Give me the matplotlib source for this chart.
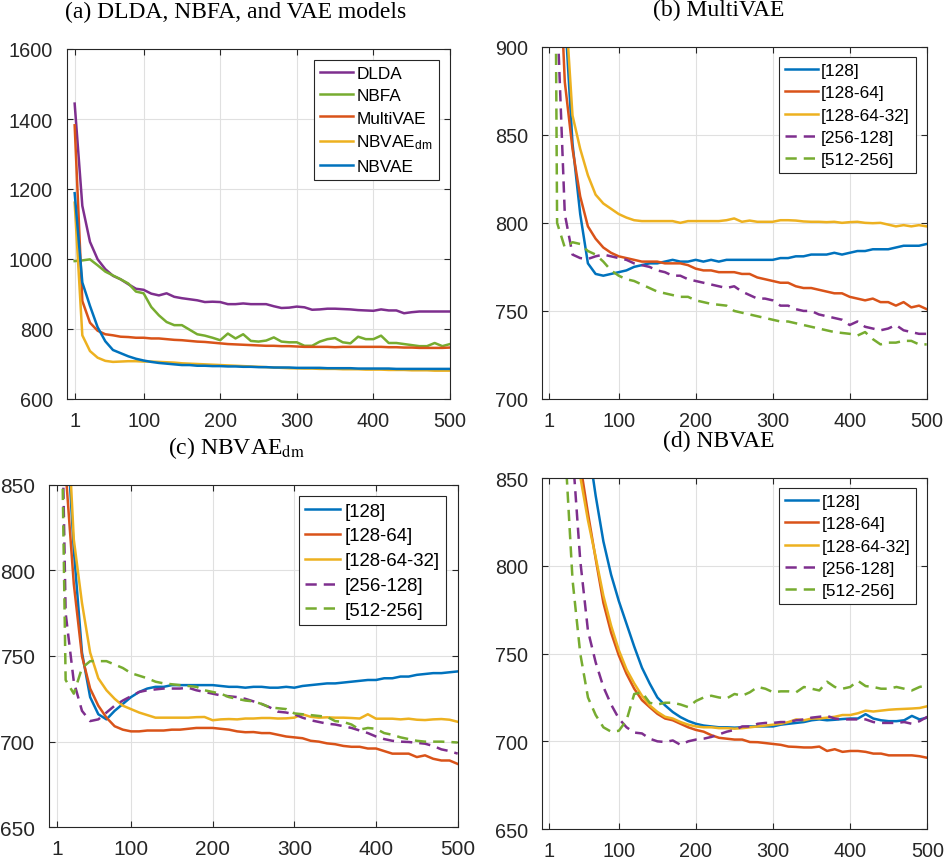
import matplotlib
matplotlib.use("Agg")
import matplotlib.pyplot as plt

plt.rcParams["font.family"] = ["Liberation Sans", "DejaVu Sans"]
plt.rcParams["mathtext.fontset"] = "custom"
plt.rcParams["mathtext.rm"] = "Liberation Sans"
plt.rcParams["mathtext.it"] = "Liberation Sans:italic"

# one checkpoint every ten epochs; tick "1" sits on the first checkpoint
ckpt = list(range(1, 51))
tick_pos = [1, 10, 20, 30, 40, 50]
tick_labels = ["1", "100", "200", "300", "400", "500"]

BLUE, RED, YELLOW, PURPLE, GREEN = "#0072BD", "#D95319", "#EDB120", "#7E2F8E", "#77AC30"

# (a) DLDA, NBFA and VAE models
dlda = [1444, 1152, 1049, 999, 971, 952, 942, 928, 915, 912,
        901, 896, 902, 892, 888, 885, 882, 877, 878, 877,
        871, 871, 873, 871, 871, 871, 865, 860, 861, 864,
        862, 855, 856, 858, 858, 857, 856, 854, 853, 852,
        856, 853, 853, 845, 848, 850, 850, 850, 850, 850]
nbfa = [994, 996, 999, 982, 964, 953, 942, 930, 907, 902,
        863, 839, 820, 811, 811, 798, 785, 781, 775, 768,
        787, 773, 785, 766, 764, 767, 776, 764, 762, 762,
        752, 752, 764, 771, 774, 762, 759, 778, 771, 771,
        781, 760, 760, 757, 754, 751, 751, 760, 751, 757]
multivae = [1382, 880, 818, 795, 785, 782, 778, 777, 775, 775,
            773, 773, 771, 769, 768, 766, 764, 763, 761, 759,
            757, 756, 755, 754, 753, 752, 752, 751, 751, 750,
            749, 749, 749, 749, 748, 749, 749, 749, 749, 749,
            749, 748, 748, 747, 747, 746, 746, 746, 746, 747]
nbvae_dm = [1161, 782, 737, 718, 709, 706, 707, 708, 708, 707,
            707, 706, 705, 704, 702, 701, 700, 699, 698, 697,
            696, 695, 694, 693, 692, 691, 690, 689, 688, 687.5,
            687, 687, 686, 686, 686, 685, 685, 685, 684, 684,
            684, 683, 683, 683, 682, 682, 682, 681, 681, 681]
nbvae = [1188, 933, 866, 805, 765, 740, 731, 722, 715, 710,
         706, 703, 701, 699, 697, 697, 695, 695, 694, 694,
         693, 693, 692, 692, 691, 691, 690, 690, 690, 689,
         689, 689, 689, 688, 688, 688, 688, 687, 687, 687,
         687, 687, 686, 686, 686, 686, 686, 686, 686, 686]

# (b) MultiVAE, hidden layer sizes
b_128 = [1200, 1000, 920, 845, 805, 777, 771, 770, 771, 772,
         773, 775, 776, 777, 777, 778, 779, 778, 778, 779,
         778, 779, 778, 779, 779, 779, 779, 779, 779, 779,
         780, 780, 781, 781, 782, 782, 782, 783, 782, 783,
         784, 784, 785, 785, 785, 786, 787, 787, 787, 788]
b_128_64 = [1250, 980, 880, 842, 815, 798, 791, 786, 783, 781,
            780, 779, 778, 778, 778, 777, 777, 777, 776, 774,
            773, 773, 772, 772, 772, 771, 771, 769, 768, 767,
            766, 766, 764, 763, 763, 762, 761, 760, 760, 758,
            757, 756, 757, 755, 755, 753, 755, 752, 753, 751]
b_128_64_32 = [1300, 1050, 930, 861, 842, 827, 816, 811, 808, 805,
               803, 801.5, 801, 801, 801, 801, 801, 800, 801, 801,
               801, 801, 801, 801.5, 802.5, 800.6, 801.3, 800.6, 800.6, 800.6,
               801.5, 801.5, 801.3, 800.8, 800.6, 800.6, 800.4, 800.6, 800, 800.4,
               800.6, 800, 799.8, 800, 799, 798, 798.7, 798, 798.7, 798]
b_256_128 = [1300, 920, 805, 782, 780, 779.5, 781, 782, 781, 780,
             779, 777, 776, 775, 773, 772, 770, 770, 768, 767,
             766, 765, 764, 763, 764, 761, 759, 757, 757, 756,
             753, 753, 751, 750, 750, 748, 747, 746, 745, 742,
             744, 741, 740, 739, 740, 742, 739, 738, 737, 737]
b_512_256 = [1500, 800, 786, 789, 788, 784, 782, 778, 773, 770,
             768, 767, 765, 763, 761, 760, 759, 758, 758, 756,
             755, 754, 753.5, 753, 750, 749, 748, 747, 746, 745,
             744, 744, 743, 742, 741, 740, 739, 738, 737.5, 737,
             736, 738, 734, 731, 732, 732, 733, 733, 731, 731]

# (c) NBVAE_dm, hidden layer sizes
c_128 = [1000, 894, 812, 752, 726, 716, 713, 718, 722, 726,
         729, 731, 732, 732, 733, 733, 733, 733, 733, 733,
         732.5, 732, 732, 731.5, 732, 732, 731.5, 731.5, 732, 731.5,
         732.5, 733, 733.5, 734, 734, 734.5, 735, 735.5, 736, 736,
         737, 737, 738, 738, 739, 739.5, 740, 740, 740.5, 741]
c_128_64 = [1000, 858, 792, 750, 731, 721, 714, 709, 707, 706,
            706, 706.5, 706.5, 706.5, 707, 707, 707.5, 708, 708, 708,
            707.5, 707, 706, 705.5, 705.6, 705, 705, 704, 703, 702.5,
            702, 700.5, 700, 699, 698.5, 697.5, 697, 697, 696, 696,
            694.5, 693, 693, 693, 691, 692, 690, 689, 689, 687]
c_128_64_32 = [1000, 912, 818, 781, 752, 737, 730, 725, 721, 719,
               717, 715.5, 714, 714, 714, 714, 714, 714.3, 714.4, 712.5,
               713, 713.2, 713, 713.5, 713.5, 713.8, 713.8, 713.5, 713.6, 714,
               716, 714.5, 714, 714.2, 714, 714, 713.8, 713.5, 716, 713.4,
               713.4, 713.4, 713, 713.4, 712.8, 712.6, 713, 713.2, 712.8, 711.6]
c_256_128 = [1040, 775, 735, 718, 712, 713, 717, 721, 724, 726.5,
             729, 730, 730.5, 731, 731, 731, 731.5, 730, 729, 728,
             727, 726.5, 726, 725, 723.5, 722, 720, 717.5, 717, 716,
             714, 712.5, 711.5, 710.5, 710, 709, 708, 706.5, 705, 703,
             701.5, 700.5, 700, 699.8, 699.3, 698.8, 697.5, 695.5, 694.5, 693]
c_512_256 = [1050, 736, 728, 743, 747, 747, 747, 745, 743, 740,
             738.5, 737, 735, 734, 733.5, 733, 732.5, 732, 730, 729,
             728, 726, 725, 724, 723.5, 722, 720, 719.5, 719, 716.5,
             716, 715.5, 715, 714.5, 712, 711.5, 710, 707, 708, 707.5,
             705, 704, 702.5, 701.5, 700.5, 700, 700, 700, 699.8, 699.5]

# (d) NBVAE, hidden layer sizes
d_128 = [1200, 1100, 1020, 960, 910, 870, 840, 814, 795, 780,
         767, 754, 742, 733, 725, 720.5, 716.7, 713.8, 711.6, 710,
         709, 708.5, 708, 708, 707.8, 708, 708.5, 708.5, 708.5, 708.5,
         709.5, 710, 710.5, 711, 712, 712.5, 712, 712.3, 712.7, 713,
         713, 715.5, 713, 712, 711.5, 711.5, 712, 714.5, 712.5, 713.5]
d_128_64 = [1100, 1020, 960, 900, 858, 830, 804, 779, 762, 749,
            738.5, 730, 723.5, 719.5, 715.7, 713, 712, 710, 708, 706.5,
            705.5, 703.5, 702, 701.5, 701, 701, 699.6, 699.5, 699, 698.5,
            698, 697, 696.8, 696.5, 696.5, 697, 694.5, 695.5, 694, 694.5,
            694.5, 694, 693, 693, 692, 692, 692, 692, 691.5, 690.6]
d_128_64_32 = [1100, 1010, 945, 895, 851, 826, 805, 783, 766, 752,
               741, 733, 726, 720.5, 716.8, 714, 713, 711, 709.5, 708.5,
               708, 708, 707.5, 707.5, 707.2, 707.5, 708, 708.5, 709, 709.5,
               710, 711, 712.5, 712, 713, 713, 713.5, 714, 715, 715,
               716, 717.5, 717, 717.5, 718, 718.3, 718.5, 718.7, 719, 720]
d_256_128 = [1200, 1050, 940, 865, 803, 763, 745, 731, 721, 713,
             708, 705, 704.5, 701.5, 700, 699.6, 700.5, 698, 700, 701,
             701.5, 702.5, 704, 705.5, 706.5, 708.5, 708.5, 710, 710.5, 710.5,
             711, 711, 712, 712.5, 713.5, 714, 714.5, 713, 712.5, 712.5,
             712.5, 712.5, 711, 710.5, 710.5, 710.5, 711, 710, 711.5, 714]
d_512_256 = [1500, 1100, 870, 792, 750, 725, 715, 708, 705.5, 706,
             712, 727, 728, 722, 721, 722, 722, 721, 719.5, 723,
             725, 726, 725, 724.5, 727, 726, 728, 731, 730, 728,
             728.5, 728.5, 728, 731, 730, 729, 734, 731, 730, 731,
             734.5, 731.5, 731, 730, 730, 731, 730, 729, 731, 732]

arch_labels = ["[128]", "[128-64]", "[128-64-32]", "[256-128]", "[512-256]"]
arch_styles = [(BLUE, "-"), (RED, "-"), (YELLOW, "-"), (PURPLE, "--"), (GREEN, "--")]

W, H = 945, 862
LW = 1.8
fig = plt.figure(figsize=(W / 100, H / 100), dpi=100)


def add_panel(left, top, right, bottom):
    return fig.add_axes([left / W, 1 - bottom / H, (right - left) / W, (bottom - top) / H])


def style(ax, ylim, yticks, fs):
    ax.set_xlim(0, 50)
    ax.set_ylim(*ylim)
    ax.set_xticks(tick_pos, tick_labels)
    ax.set_yticks(yticks)
    ax.grid(True, color="#e0e0e0", lw=0.8)
    ax.set_axisbelow(True)
    ax.tick_params(direction="in", length=4, width=0.8, top=True, right=True,
                   colors="#262626", labelsize=fs)
    ax.tick_params(axis="x", pad=8.5)
    ax.tick_params(axis="y", pad=10)
    for s in ax.spines.values():
        s.set_color("#262626")
        s.set_linewidth(0.8)


def legend(ax, anchor, fs):
    leg = ax.legend(loc="upper right", bbox_to_anchor=anchor, borderaxespad=0,
                    fontsize=fs, fancybox=False, edgecolor="#262626", framealpha=1,
                    handlelength=1.9, handletextpad=0.2, labelspacing=0.42, borderpad=0.35)
    leg.get_frame().set_linewidth(0.8)


def title(x, y, text):
    fig.text(x / W, 1 - y / H, text, ha="center", va="baseline", fontsize=17,
             fontfamily="Liberation Serif", math_fontfamily="stix")


# panel (a)
ax = add_panel(67, 50, 450, 400)
for vals, col, lab in [(dlda, PURPLE, "DLDA"), (nbfa, GREEN, "NBFA"),
                       (multivae, RED, "MultiVAE"),
                       (nbvae_dm, YELLOW, r"NBVAE$_{\mathrm{dm}}$"),
                       (nbvae, BLUE, "NBVAE")]:
    ax.plot(ckpt, vals, color=col, lw=LW, label=lab)
style(ax, (600, 1600), range(600, 1601, 200), 14.3)
legend(ax, (0.971, 0.969), 12.4)
title(236, 18.3, "(a) DLDA, NBFA, and VAE models")

panels = [
    ((541.7, 47.7, 926.7, 400), [b_128, b_128_64, b_128_64_32, b_256_128, b_512_256],
     (700, 900), (0.972, 0.971), 14.3, 12.4, (719, 16, "(b) MultiVAE")),
    ((49.3, 485.7, 457.7, 828.3), [c_128, c_128_64, c_128_64_32, c_256_128, c_512_256],
     (650, 850), (0.971, 0.967), 15, 13.4, (236, 454.3, r"(c) NBVAE$_{\mathrm{dm}}$")),
    ((541.7, 479.3, 927.3, 830), [d_128, d_128_64, d_128_64_32, d_256_128, d_512_256],
     (650, 850), (0.971, 0.972), 14.3, 12.4, (719, 447.3, "(d) NBVAE")),
]
for box, series, ylim, anchor, fs_tick, fs_leg, ttl in panels:
    ax = add_panel(*box)
    for vals, (col, ls), lab in zip(series, arch_styles, arch_labels):
        ax.plot(ckpt, vals, color=col, ls=ls, lw=LW, label=lab,
                dashes=(4.5, 2.8) if ls == "--" else (None, None))
    style(ax, ylim, range(ylim[0], ylim[1] + 1, 50), fs_tick)
    legend(ax, anchor, fs_leg)
    title(*ttl)

fig.savefig("out.png", dpi=100)
